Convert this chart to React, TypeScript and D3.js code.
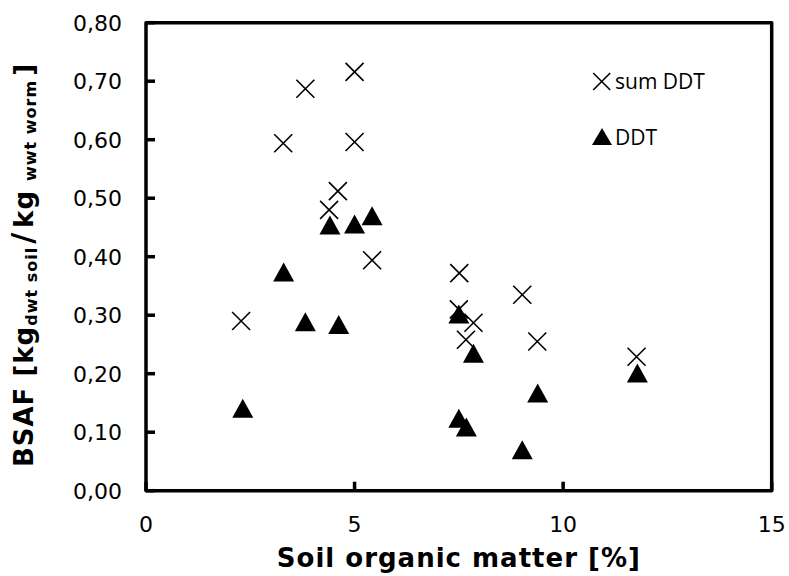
import React from "react";
import * as d3 from "d3";

const sumDDT_x = [2.28, 3.29, 3.82, 4.39, 4.6, 5.0, 5.0, 5.42, 7.51, 7.5, 7.85, 7.67, 9.02, 9.38, 11.76];
const sumDDT_y = [0.29, 0.594, 0.687, 0.48, 0.512, 0.716, 0.596, 0.394, 0.372, 0.31, 0.287, 0.258, 0.335, 0.255, 0.229];
const DDT_x = [2.32, 3.3, 3.82, 4.62, 4.41, 5.0, 5.42, 7.5, 7.85, 7.5, 7.68, 9.02, 9.39, 11.78];
const DDT_y = [0.141, 0.374, 0.289, 0.284, 0.454, 0.456, 0.47, 0.302, 0.235, 0.124, 0.109, 0.07, 0.167, 0.201];
const xTicks = [0, 5, 10, 15];
const yTicks = [0, 0.1, 0.2, 0.3, 0.4, 0.5, 0.6, 0.7, 0.8];
const seriesNames = ["sum DDT", "DDT"];

const W = 789, H = 576;
const L = 146, R = 771.7, T = 22.7, B = 490.7;

export default function App() {
  const x = d3.scaleLinear().domain([0, 15]).range([L, R]);
  const y = d3.scaleLinear().domain([0, 0.8]).range([B, T]);
  const fmt = (v: number) => v.toFixed(2).replace(".", ",");
  const cross = (cx: number, cy: number, s = 9) =>
    `M${cx - s},${cy - s}L${cx + s},${cy + s}M${cx - s},${cy + s}L${cx + s},${cy - s}`;
  const tri = (cx: number, cy: number, w = 21, h = 19) =>
    `M${cx},${cy - h / 2}L${cx + w / 2},${cy + h / 2}L${cx - w / 2},${cy + h / 2}Z`;
  const axisFont = "'DejaVu Sans', Verdana, sans-serif";
  return (
    <svg width={W} height={H} style={{ position: "absolute", left: 0, top: 0, background: "#fff" }}>
      <rect x={0} y={0} width={W} height={H} fill="#fff" />
      {/* ticks */}
      {yTicks.map((t) => (
        <line key={"yt" + t} x1={L} x2={L + 9} y1={y(t)} y2={y(t)} stroke="#000" strokeWidth={3.5} />
      ))}
      {xTicks.map((t) => (
        <line key={"xt" + t} x1={x(t)} x2={x(t)} y1={B} y2={B - 9} stroke="#000" strokeWidth={3.5} />
      ))}
      {/* frame */}
      <rect x={L} y={T} width={R - L} height={B - T} fill="none" stroke="#000" strokeWidth={3.5} strokeLinejoin="round" />
      {/* tick labels */}
      {yTicks.map((t) => (
        <text key={"yl" + t} x={122} y={y(t)} dy="0.36em" textAnchor="end" fontFamily={axisFont} fontSize={22} fill="#000">
          {fmt(t)}
        </text>
      ))}
      {xTicks.map((t) => (
        <text key={"xl" + t} x={x(t)} y={532} textAnchor="middle" fontFamily={axisFont} fontSize={22} fill="#000">
          {t}
        </text>
      ))}
      {/* x title */}
      <text x={(L + R) / 2} y={567} textAnchor="middle" fontFamily={axisFont} fontWeight="bold" fontSize={26} letterSpacing={1} fill="#000">
        Soil organic matter [%]
      </text>
      {/* y title */}
      <text transform={`translate(33,265) rotate(-90)`} textAnchor="middle" fontFamily={axisFont} fontWeight="bold" letterSpacing={1} fill="#000">
        <tspan fontSize={26}>BSAF [kg</tspan>
        <tspan fontSize={16} dy={4}>dwt soil</tspan>
        <tspan fontSize={30} dy={-4} dx={3}>/</tspan>
        <tspan fontSize={26} dx={4}>kg</tspan>
        <tspan fontSize={16} dy={3} dx={9}>wwt worm</tspan>
        <tspan fontSize={26} dy={-3} dx={4}>]</tspan>
      </text>
      {/* data */}
      {sumDDT_x.map((v, i) => (
        <path key={"s" + i} d={cross(x(v), y(sumDDT_y[i]))} stroke="#000" strokeWidth={1.6} fill="none" />
      ))}
      {DDT_x.map((v, i) => (
        <path key={"d" + i} d={tri(x(v), y(DDT_y[i]))} fill="#000" />
      ))}
      {/* legend */}
      <path d={cross(601.7, 81.5, 8.5)} stroke="#000" strokeWidth={1.6} fill="none" />
      <text x={615} y={88.5} fontFamily="'Open Sans', sans-serif" fontSize={21} fill="#000">{seriesNames[0]}</text>
      <path d={tri(602, 136.5, 20, 17)} fill="#000" />
      <text x={615} y={145} fontFamily="'Open Sans', sans-serif" fontSize={21} fill="#000">{seriesNames[1]}</text>
    </svg>
  );
}
